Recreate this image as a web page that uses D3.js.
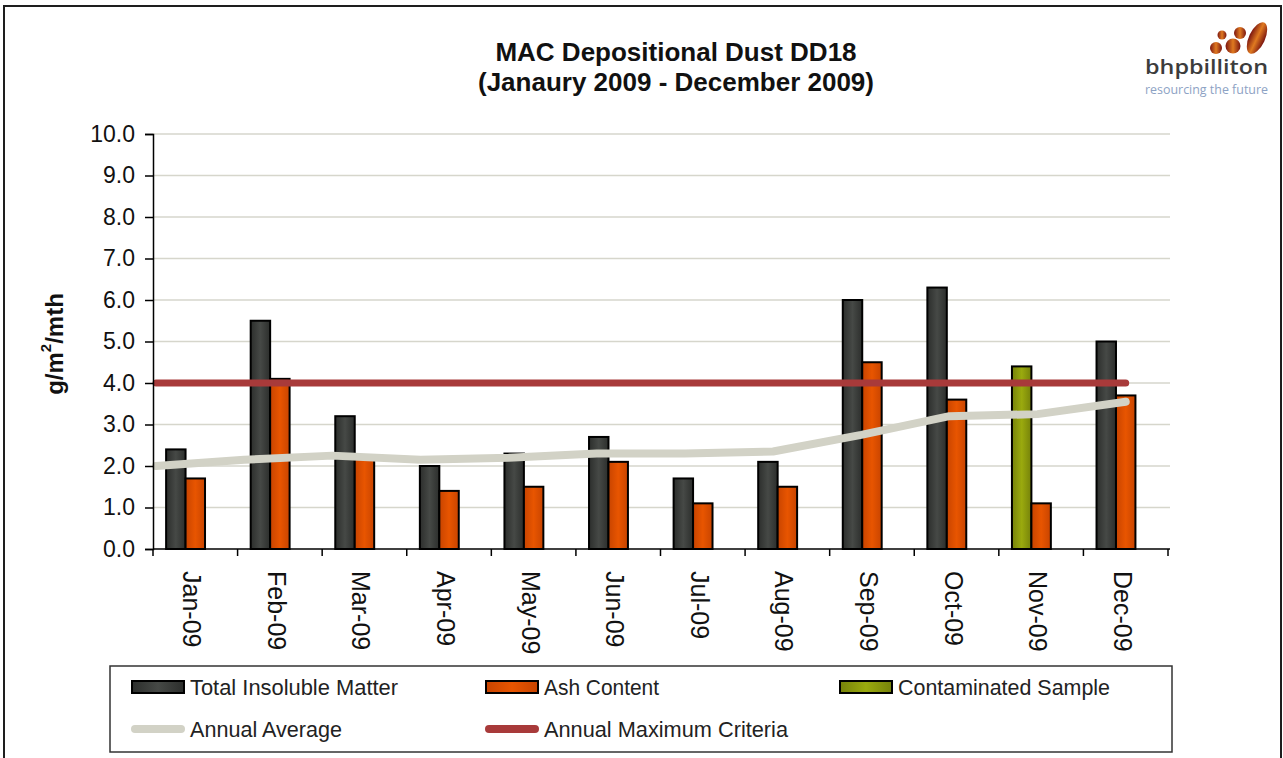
<!DOCTYPE html>
<html>
<head>
<meta charset="utf-8">
<script src="https://cdn.jsdelivr.net/npm/d3@7"></script>
<style>
	body { margin: 0; background: #fff; }
	svg { display: block; font-family: "Liberation Sans", Arial, sans-serif; }
</style>
</head>
<body>
<svg id="chart" width="1283" height="758"></svg>
<script>
// chart values
const months = ["Jan-09", "Feb-09", "Mar-09", "Apr-09", "May-09", "Jun-09",
	"Jul-09", "Aug-09", "Sep-09", "Oct-09", "Nov-09", "Dec-09"];
const totalInsoluble = [2.4, 5.5, 3.2, 2.0, 2.3, 2.7, 1.7, 2.1, 6.0, 6.3, null, 5.0];
const ashContent = [1.7, 4.1, 2.2, 1.4, 1.5, 2.1, 1.1, 1.5, 4.5, 3.6, 1.1, 3.7];
const contaminated = [null, null, null, null, null, null, null, null, null, null, 4.4, null];
const annualAverage = [2.0, 2.15, 2.25, 2.15, 2.2, 2.3, 2.3, 2.35, 2.75, 3.2, 3.25, 3.55];
const maxCriteria = 4.0;
const yTicks = [0, 1, 2, 3, 4, 5, 6, 7, 8, 9, 10];

const svg = d3.select("#chart");
const margin = { left: 153, right: 1168, top: 134, bottom: 549 };

// outer frame (bottom edge runs off the picture)
svg.append("rect")
	.attr("x", 4).attr("y", 6).attr("width", 1277).attr("height", 800)
	.attr("fill", "none").attr("stroke", "#1e1e1e").attr("stroke-width", 2);

// gradients for the bars, a bit like excel's
const defs = svg.append("defs");
function barGradient(id, edge, mid) {
	const g = defs.append("linearGradient").attr("id", id)
		.attr("x1", "0%").attr("x2", "100%").attr("y1", "0%").attr("y2", "0%");
	g.append("stop").attr("offset", "0%").attr("stop-color", edge);
	g.append("stop").attr("offset", "50%").attr("stop-color", mid);
	g.append("stop").attr("offset", "100%").attr("stop-color", edge);
}
barGradient("gDark", "#2c2e2c", "#464946");
barGradient("gOrange", "#c84400", "#e85500");
barGradient("gGreen", "#76820a", "#9aaa0e");
barGradient("gLogo", "#7a1410", "#e07a20");

// scales
const x = d3.scaleBand().domain(months).range([margin.left, margin.right]);
const y = d3.scaleLinear().domain([0, 10]).range([margin.bottom, margin.top]);
const bw = x.bandwidth();
const slot = bw * 0.23;
const groupStart = m => x(m) + (bw - 3 * slot) / 2;
const xLine = d3.scalePoint().domain(months)
	.range([margin.left + 3, x(months[months.length - 1]) + bw / 2]);

// gridlines
svg.append("g").selectAll("line").data(yTicks.slice(1)).join("line")
	.attr("x1", margin.left).attr("x2", margin.right + 2)
	.attr("y1", d => y(d)).attr("y2", d => y(d))
	.attr("stroke", "#d6d6cc").attr("stroke-width", 1.5);

// bars
const bars = svg.append("g").attr("stroke", "#000").attr("stroke-width", 2);
function drawBars(values, slotIdx, fill) {
	const data = months.map((m, i) => ({ m: m, v: values[i] })).filter(d => d.v != null);
	bars.append("g").selectAll("rect").data(data).join("rect")
		.attr("x", d => groupStart(d.m) + slotIdx * slot)
		.attr("y", d => y(d.v))
		.attr("width", slot)
		.attr("height", d => y(0) - y(d.v))
		.attr("fill", fill);
}
drawBars(totalInsoluble, 0, "url(#gDark)");
drawBars(contaminated, 0, "url(#gGreen)");
drawBars(ashContent, 1, "url(#gOrange)");

// lines
const avgLine = d3.line().x((d, i) => xLine(months[i])).y(d => y(d));
svg.append("path").datum(months.map(() => maxCriteria))
	.attr("d", avgLine)
	.attr("fill", "none").attr("stroke", "#a83a3a").attr("stroke-width", 7)
	.attr("stroke-linecap", "round");
svg.append("path").datum(annualAverage)
	.attr("d", avgLine)
	.attr("fill", "none").attr("stroke", "#d2d2c6").attr("stroke-width", 8)
	.attr("stroke-linecap", "round").attr("stroke-linejoin", "round");

// y axis
const yAxis = svg.append("g")
	.attr("transform", "translate(" + margin.left + ",0)")
	.call(d3.axisLeft(y).tickValues(yTicks).tickFormat(d3.format(".1f")).tickSize(8).tickPadding(10));
yAxis.select(".domain").attr("stroke", "#000").attr("stroke-width", 1.5);
yAxis.selectAll(".tick line").attr("stroke", "#000").attr("stroke-width", 1.5);
yAxis.selectAll(".tick text").attr("font-size", 23).attr("fill", "#111")
	.attr("font-family", "Liberation Sans, Arial, sans-serif");

// x axis: ticks on the band edges, labels turned downwards
const xAxis = svg.append("g");
xAxis.append("line")
	.attr("x1", margin.left).attr("x2", margin.right + 2)
	.attr("y1", margin.bottom).attr("y2", margin.bottom)
	.attr("stroke", "#000").attr("stroke-width", 1.5);
xAxis.selectAll(".xt").data(months.concat(["end"])).join("line")
	.attr("class", "xt")
	.attr("x1", d => d === "end" ? margin.right : x(d))
	.attr("x2", d => d === "end" ? margin.right : x(d))
	.attr("y1", margin.bottom).attr("y2", margin.bottom + 7)
	.attr("stroke", "#000").attr("stroke-width", 1.5);
xAxis.selectAll("text").data(months).join("text")
	.attr("transform", d => "translate(" + (x(d) + bw / 2 - 3) + "," + (margin.bottom + 22) + ") rotate(90)")
	.attr("dominant-baseline", "central")
	.attr("font-size", 25).attr("fill", "#111")
	.text(d => d);

// y axis title
const yt = svg.append("text")
	.attr("transform", "translate(54,344) rotate(-90)")
	.attr("text-anchor", "middle").attr("dominant-baseline", "central")
	.attr("font-size", 24).attr("font-weight", "bold").attr("fill", "#111");
yt.append("tspan").text("g/m");
yt.append("tspan").attr("font-size", 15).attr("dy", -9).text("2");
yt.append("tspan").attr("dy", 9).text("/mth");

// title
const title = svg.append("text").attr("text-anchor", "middle")
	.attr("font-size", 26).attr("font-weight", "bold").attr("fill", "#111");
title.append("tspan").attr("x", 676).attr("y", 61).text("MAC Depositional Dust DD18");
title.append("tspan").attr("x", 676).attr("y", 91).text("(Janaury 2009 - December 2009)");

// logo
const logo = svg.append("g");
[[1216, 48, 6], [1222, 35, 4.5], [1233, 46, 7.5], [1240, 33, 6]].forEach(c => {
	logo.append("circle").attr("cx", c[0]).attr("cy", c[1]).attr("r", c[2]).attr("fill", "url(#gLogo)");
});
logo.append("ellipse").attr("cx", 1257).attr("cy", 38).attr("rx", 8).attr("ry", 17)
	.attr("transform", "rotate(25,1257,38)").attr("fill", "url(#gLogo)");
logo.append("text").attr("x", 1145).attr("y", 74).attr("textLength", 123)
	.attr("lengthAdjust", "spacingAndGlyphs")
	.attr("font-family", "Open Sans, sans-serif").attr("font-weight", 600)
	.attr("font-size", 20).attr("fill", "#3c3c3c").text("bhpbilliton");
logo.append("text").attr("x", 1145).attr("y", 94).attr("textLength", 123)
	.attr("lengthAdjust", "spacingAndGlyphs")
	.attr("font-family", "Open Sans, sans-serif")
	.attr("font-size", 12).attr("fill", "#8da2c4").text("resourcing the future");

// legend
const legendItems = [
	{ name: "Total Insoluble Matter", kind: "bar", fill: "url(#gDark)", col: 0, row: 0, w: 208 },
	{ name: "Ash Content", kind: "bar", fill: "url(#gOrange)", col: 1, row: 0, w: 115 },
	{ name: "Contaminated Sample", kind: "bar", fill: "url(#gGreen)", col: 2, row: 0, w: 212 },
	{ name: "Annual Average", kind: "line", fill: "#d2d2c6", col: 0, row: 1, w: 152 },
	{ name: "Annual Maximum Criteria", kind: "line", fill: "#a83a3a", col: 1, row: 1, w: 244 }
];
const legend = svg.append("g");
legend.append("rect").attr("x", 110).attr("y", 666).attr("width", 1062).attr("height", 86)
	.attr("fill", "#fff").attr("stroke", "#333").attr("stroke-width", 1.5);
const colX = [132, 486, 840];
const rowY = [687, 729];
legendItems.forEach(it => {
	const lx = colX[it.col], ly = rowY[it.row];
	if (it.kind === "bar") {
		legend.append("rect").attr("x", lx).attr("y", ly - 6).attr("width", 52).attr("height", 12)
			.attr("fill", it.fill).attr("stroke", "#000").attr("stroke-width", 2);
	} else {
		legend.append("line").attr("x1", lx + 3).attr("x2", lx + 49).attr("y1", ly).attr("y2", ly)
			.attr("stroke", it.fill).attr("stroke-width", 8).attr("stroke-linecap", "round");
	}
	legend.append("text").attr("x", lx + 58).attr("y", ly)
		.attr("dominant-baseline", "central")
		.attr("font-size", 22).attr("fill", "#222")
		.attr("textLength", it.w).attr("lengthAdjust", "spacingAndGlyphs")
		.text(it.name);
});
</script>
</body>
</html>
